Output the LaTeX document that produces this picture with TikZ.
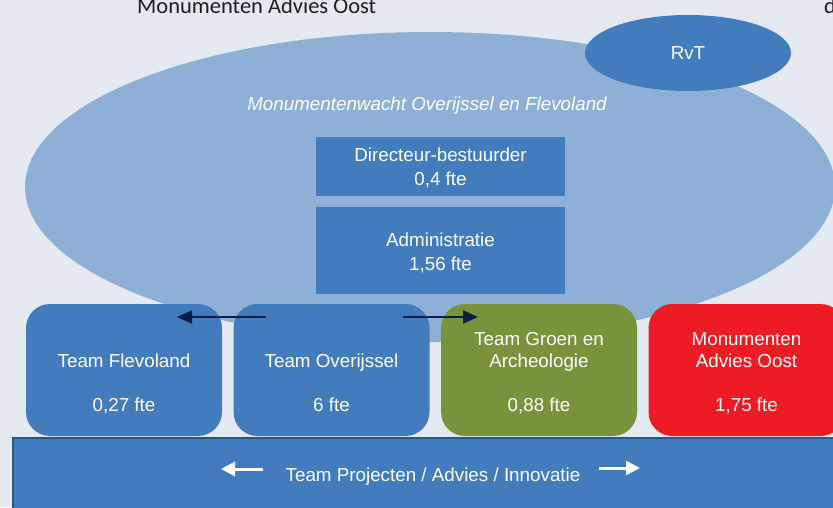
\documentclass[tikz,border=0pt]{standalone}
\usepackage{fontspec}
\setmainfont{Liberation Sans}
\newfontfamily\calfont{Carlito}
\usetikzlibrary{shapes.geometric,arrows.meta}
\definecolor{bg}{RGB}{228,233,242}
\definecolor{lblue}{RGB}{143,176,214}
\definecolor{mblue}{RGB}{66,124,189}
\definecolor{dblue}{RGB}{40,86,142}
\definecolor{mgreen}{RGB}{119,147,60}
\definecolor{mred}{RGB}{237,28,36}
\definecolor{navy}{RGB}{12,30,70}
\definecolor{dtext}{RGB}{30,30,30}
\newcommand\myup[1]{\rule{0pt}{#1}}
\tikzset{
 txt/.style={text=white,font=\fontsize{18.8}{22.3}\selectfont,align=center},
 teambox/.style={txt,rounded corners=24pt,minimum width=196pt,minimum height=132pt,inner sep=0pt},
 topbox/.style={txt,fill=mblue,minimum width=249pt,inner sep=0pt,font=\fontsize{18.8}{24.5}\selectfont},
 darrow/.style={draw=navy,line width=2.2pt,-{Triangle[length=15pt,width=13pt]}},
 warrow/.style={draw=white,line width=3pt,-{Triangle[length=14pt,width=14pt]}},
}
\begin{document}
\begin{tikzpicture}[x=1pt,y=-1pt]
\useasboundingbox (0,0) rectangle (833,507);
\clip (0,0) rectangle (833,507);
\fill[bg] (0,0) rectangle (833,507);
% top texts
\node[anchor=base west,inner sep=0,text=dtext,font=\calfont\fontsize{22.5}{26}\selectfont] (mao) at (137,13) {Monumenten Advies Oost};
\node[anchor=base west,inner sep=0,text=dtext,font=\calfont\fontsize{22.5}{26}\selectfont] (dd) at (824,13) {d};
% ellipses
\node[ellipse,fill=lblue,minimum width=810pt,minimum height=310pt,inner sep=0pt] (mw) at (430,187) {};
\node[ellipse,fill=mblue,minimum width=206pt,minimum height=76pt,inner sep=0pt,txt] (rvt) at (688,53) {RvT};
\node[txt,font=\itshape\fontsize{18.8}{22}\selectfont] (mwt) at (427,106) {Monumentenwacht Overijssel en Flevoland};
% top boxes
\node[topbox,minimum height=59pt] (dir) at (440.5,166.5) {\myup{21.2pt}Directeur-bestuurder\\\strut 0,4 fte};
\node[topbox,minimum height=87pt] (adm) at (440.5,250.5) {\myup{23.2pt}Administratie\\\strut 1,56 fte};
% team boxes
\node[teambox,fill=mblue] (flev) at (124,370) {\myup{23.6pt}\\\strut Team Flevoland\\\strut\\\strut 0,27 fte};
\node[teambox,fill=mblue] (over) at (331.5,370) {\myup{23.6pt}\\\strut Team Overijssel\\\strut\\\strut 6 fte};
\node[teambox,fill=mgreen] (groen) at (539,370) {\myup{23.6pt}Team Groen en\\\strut Archeologie\\\strut\\\strut 0,88 fte};
\node[teambox,fill=mred] (red) at (746.5,370) {\myup{23.6pt}Monumenten\\\strut Advies Oost\\\strut\\\strut 1,75 fte};
% bottom bar
\node[fill=mblue,draw=dblue,line width=1.5pt,minimum width=842pt,minimum height=90pt,inner sep=0pt,anchor=north west] (bar) at (12,437) {};
\node[txt] (bart) at (433,477) {Team Projecten / Advies / Innovatie};
% arrows
\coordinate (la1) at (266,317);
\coordinate (la2) at (177,317);
\coordinate (ra1) at (403,317);
\coordinate (ra2) at (478,317);
\draw[darrow] (la1) -- (la2);
\draw[darrow] (ra1) -- (ra2);
\coordinate (wl1) at (263,469);
\coordinate (wl2) at (221,469);
\coordinate (wr1) at (599,468);
\coordinate (wr2) at (640,468);
\draw[warrow] (wl1) -- (wl2);
\draw[warrow] (wr1) -- (wr2);
\end{tikzpicture}
\end{document}
